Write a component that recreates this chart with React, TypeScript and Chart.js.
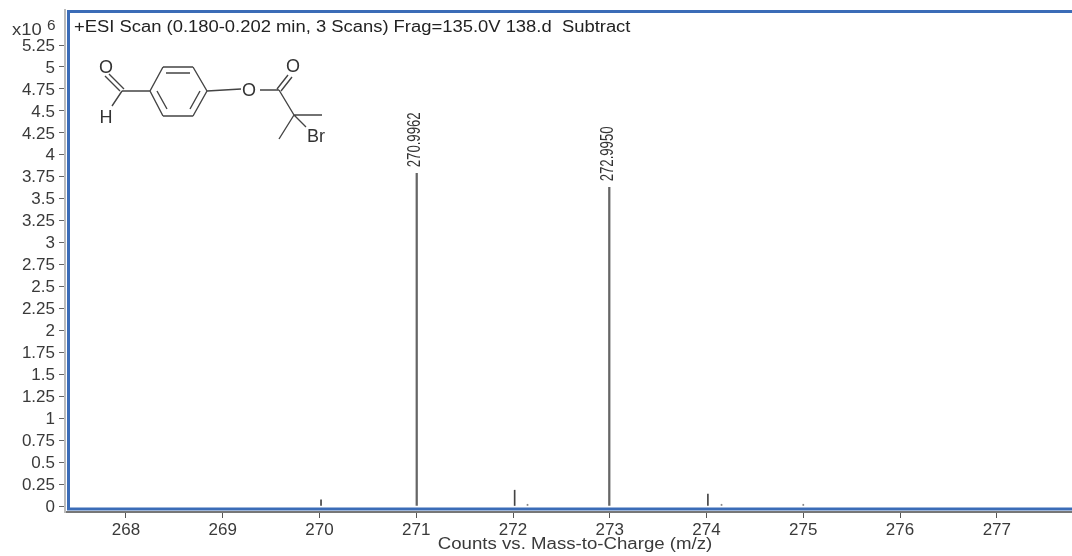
import React, { useEffect, useRef } from "react";
import { Chart, registerables } from "chart.js";

Chart.register(...registerables);

const majorMz = [271.005, 272.995];
const majorCounts = [3.79, 3.63];
const minorMz = [270.016, 272.017, 274.014];
const minorCounts = [0.07, 0.18, 0.137];
const traceMz = [272.15, 274.155, 275.0];
const traceCounts = [0.02, 0.02, 0.02];
const majorLabels = ["270.9962", "272.9950"];
const scanTitle = "+ESI Scan (0.180-0.202 min, 3 Scans) Frag=135.0V 138.d  Subtract";
const xTitle = "Counts vs. Mass-to-Charge (m/z)";

const bonds: number[][] = [
  [122, 91, 150, 91], [120, 91, 105, 76], [124, 89, 109, 74], [122, 91, 112, 106],
  [150, 91, 163, 67], [163, 67, 193, 67], [193, 67, 207, 91], [207, 91, 193, 116],
  [193, 116, 163, 116], [163, 116, 150, 91],
  [166, 73, 190, 73], [157, 91, 167, 109], [200, 91, 190, 109],
  [207, 91, 241, 89], [260, 90, 279, 90], [279, 90, 294, 115],
  [277, 89, 288, 75], [281, 91, 292, 77],
  [294, 115, 322, 115], [294, 115, 279, 139], [294, 115, 306, 127],
];
const atoms: [string, number, number][] = [
  ["O", 106, 68], ["H", 106, 118], ["O", 249, 91], ["O", 293, 67], ["Br", 316, 137],
];

const FONT = '"Liberation Sans", Arial, sans-serif';
const TEXT = "#3a3a3a";

function stretchedText(ctx: any, text: string, x: number, y: number, sx: number, align: string) {
  ctx.save();
  ctx.translate(x, y);
  ctx.scale(sx, 1);
  ctx.textAlign = align;
  ctx.textBaseline = "middle";
  ctx.fillText(text, 0, 0);
  ctx.restore();
}

const overlay = {
  id: "overlay",
  afterDraw(chart: any) {
    const { ctx, scales, chartArea: a } = chart;
    const { x, y } = scales;
    ctx.save();

    // blue frame
    ctx.strokeStyle = "#3b6cb7";
    ctx.lineWidth = 3;
    ctx.beginPath();
    ctx.moveTo(a.right + 2, 11.5);
    ctx.lineTo(68.5, 11.5);
    ctx.lineTo(68.5, 509);
    ctx.lineTo(a.right + 2, 509);
    ctx.stroke();

    // header texts
    ctx.fillStyle = "#222";
    ctx.font = `16px ${FONT}`;
    stretchedText(ctx, scanTitle, 74, 28, 1.15, "left");
    ctx.fillStyle = TEXT;
    stretchedText(ctx, xTitle, 575, 545, 1.165, "center");
    stretchedText(ctx, "x10", 12, 31, 1.15, "left");
    ctx.font = `14px ${FONT}`;
    stretchedText(ctx, "6", 47, 26, 1.1, "left");

    // peak labels
    ctx.fillStyle = "#333";
    ctx.font = `18px ${FONT}`;
    majorLabels.forEach((t, i) => {
      ctx.save();
      ctx.translate(x.getPixelForValue(majorMz[i]) - 1.5, y.getPixelForValue(majorCounts[i]) - 6);
      ctx.rotate(-Math.PI / 2);
      ctx.scale(0.73, 1);
      ctx.textAlign = "left";
      ctx.textBaseline = "middle";
      ctx.fillText(t, 0, 0);
      ctx.restore();
    });

    // structure
    ctx.strokeStyle = "#444";
    ctx.lineWidth = 1.4;
    ctx.beginPath();
    bonds.forEach(([x1, y1, x2, y2]) => {
      ctx.moveTo(x1, y1);
      ctx.lineTo(x2, y2);
    });
    ctx.stroke();
    ctx.fillStyle = "#333";
    ctx.font = `18px ${FONT}`;
    ctx.textAlign = "center";
    ctx.textBaseline = "middle";
    atoms.forEach(([t, ax, ay]) => ctx.fillText(t, ax, ay));
    ctx.restore();
  },
};

const toXY = (xs: number[], ys: number[]) => xs.map((m, i) => ({ x: m, y: ys[i] }));
const noPadding = (s: any) => {
  s.paddingTop = 0;
  s.paddingBottom = 0;
  s.paddingLeft = 0;
  s.paddingRight = 0;
};

export default function App() {
  const ref = useRef<HTMLCanvasElement | null>(null);
  useEffect(() => {
    if (!ref.current) return;
    const chart = new Chart(ref.current, {
      type: "bar",
      data: {
        datasets: [
          { label: "Major", data: toXY(majorMz, majorCounts), backgroundColor: "#666", barThickness: 1.6, grouped: false },
          { label: "Minor", data: toXY(minorMz, minorCounts), backgroundColor: "#444", barThickness: 1, grouped: false },
          { label: "Trace", data: toXY(traceMz, traceCounts), backgroundColor: "#888", barThickness: 1, grouped: false },
        ],
      },
      options: {
        animation: false,
        responsive: false,
        devicePixelRatio: 1,
        layout: { padding: { top: 10, left: 0, right: 0, bottom: 0 } },
        plugins: { legend: { display: false }, tooltip: { enabled: false } },
        scales: {
          x: {
            type: "linear",
            offset: false,
            min: 267.37,
            max: 277.777,
            afterFit: (s: any) => { s.height = 44; noPadding(s); },
            grid: { display: true, offset: false, drawOnChartArea: false, tickLength: 6, tickColor: "#555" },
            border: { display: true, color: "#777", width: 2 },
            ticks: {
              stepSize: 1,
              includeBounds: false,
              maxRotation: 0,
              padding: 2,
              color: TEXT,
              font: { family: FONT, size: 17 },
              callback: (v: any) => String(v),
            },
          },
          y: {
            min: -0.0683,
            max: 5.649,
            afterFit: (s: any) => { s.width = 65; noPadding(s); },
            afterBuildTicks: (s: any) => { s.ticks = s.ticks.filter((t: any) => t.value <= 5.25); },
            grid: { display: true, drawOnChartArea: false, tickLength: 6, tickColor: "#666" },
            border: { display: true, color: "#bbb", width: 2 },
            ticks: {
              stepSize: 0.25,
              includeBounds: false,
              autoSkip: false,
              padding: 4,
              labelOffset: 1,
              color: TEXT,
              font: { family: FONT, size: 17 },
              callback: (v: any) => String(v),
            },
          },
        },
      },
      plugins: [overlay],
    } as any);
    return () => chart.destroy();
  }, []);
  return (
    <div style={{ position: "fixed", left: 0, top: 0, width: 1072, height: 556, background: "#fff" }}>
      <canvas ref={ref} width={1072} height={556} style={{ display: "block" }} />
    </div>
  );
}
